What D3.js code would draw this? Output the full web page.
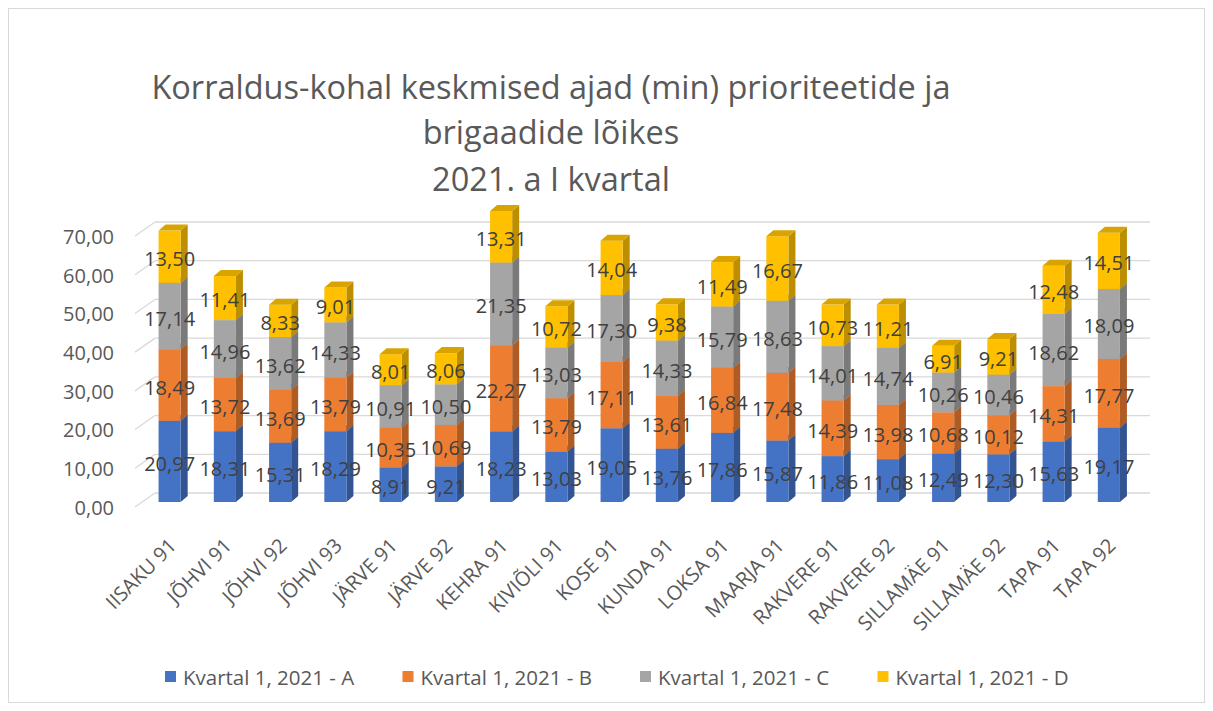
<!DOCTYPE html>
<html><head><meta charset="utf-8">
<script src="https://cdn.jsdelivr.net/npm/d3@7"></script>
<style>body{margin:0;background:#fff}svg{display:block;font-family:"Open Sans",sans-serif}</style>
</head><body>
<script>
const categories = ["IISAKU 91","JÕHVI 91","JÕHVI 92","JÕHVI 93","JÄRVE 91","JÄRVE 92","KEHRA 91","KIVIÕLI 91","KOSE 91","KUNDA 91","LOKSA 91","MAARJA 91","RAKVERE 91","RAKVERE 92","SILLAMÄE 91","SILLAMÄE 92","TAPA 91","TAPA 92"];
const seriesNames = ["Kvartal 1, 2021 - A","Kvartal 1, 2021 - B","Kvartal 1, 2021 - C","Kvartal 1, 2021 - D"];
const valuesA = [20.97,18.31,15.31,18.29,8.91,9.21,18.23,13.03,19.05,13.76,17.86,15.87,11.86,11.08,12.49,12.30,15.63,19.17];
const valuesB = [18.49,13.72,13.69,13.79,10.35,10.69,22.27,13.79,17.11,13.61,16.84,17.48,14.39,13.98,10.68,10.12,14.31,17.77];
const valuesC = [17.14,14.96,13.62,14.33,10.91,10.50,21.35,13.03,17.30,14.33,15.79,18.63,14.01,14.74,10.26,10.46,18.62,18.09];
const valuesD = [13.50,11.41,8.33,9.01,8.01,8.06,13.31,10.72,14.04,9.38,11.49,16.67,10.73,11.21,6.91,9.21,12.48,14.51];
const yTicks = [0,10,20,30,40,50,60,70];
const titleLines = ["Korraldus-kohal keskmised ajad (min) prioriteetide ja","brigaadide lõikes","2021. a I kvartal"];
const colors = ["#4472C4","#ED7D31","#A5A5A5","#FFC000"];

const W = 1213, H = 711;
const svg = d3.select("body").append("svg").attr("width", W).attr("height", H);

svg.append("rect").attr("x",8.5).attr("y",8.5).attr("width",1196).attr("height",694)
  .attr("fill","#fff").attr("stroke","#d9d9d9");

const rows = categories.map((c,i)=>({cat:c, A:valuesA[i], B:valuesB[i], C:valuesC[i], D:valuesD[i]}));
const stack = d3.stack().keys(["A","B","C","D"])(rows);

const x = d3.scaleBand().domain(categories).range([142, 1136.5]).paddingInner(0.6).paddingOuter(0.3);
const y = d3.scaleLinear().domain([0,70]).range([502,231]);
const dx = 7, dy = -6;

// gridlines (back wall) and left wall diagonals
const grid = svg.append("g");
yTicks.forEach(t=>{
  const yy = y(t);
  grid.append("line").attr("x1",155).attr("x2",1150).attr("y1",yy-9).attr("y2",yy-9)
    .attr("stroke","#d9d9d9").attr("stroke-width",1.3);
  grid.append("line").attr("x1",135).attr("x2",155).attr("y1",yy+5).attr("y2",yy-9)
    .attr("stroke","#d9d9d9").attr("stroke-width",1.3);
});

// y axis labels
const yAxis = d3.axisLeft(y).tickValues(yTicks).tickSize(0).tickPadding(0)
  .tickFormat(d=>d3.format(".2f")(d).replace(".",","));
const yg = svg.append("g").attr("transform","translate(114,6)").call(yAxis);
yg.select(".domain").remove();
yg.selectAll("text").attr("fill","#595959").attr("font-size",20).attr("font-family","Open Sans");

// bars
const bw = x.bandwidth();
const barsG = svg.append("g");
categories.forEach((c,i)=>{
  const x0 = x(c), x1 = x0 + bw;
  stack.forEach((s,k)=>{
    const d = s[i];
    const yb = y(d[0]), yt = y(d[1]);
    const col = d3.color(colors[k]);
    const side = col.darker(0.85), top = col.darker(0.45);
    barsG.append("polygon").attr("points",[[x1,yb],[x1+dx,yb+dy],[x1+dx,yt+dy],[x1,yt]].join(" ")).attr("fill",side);
    barsG.append("rect").attr("x",x0).attr("y",yt).attr("width",bw).attr("height",yb-yt).attr("fill",col);
    barsG.append("polygon").attr("points",[[x0,yt],[x0+dx,yt+dy],[x1+dx,yt+dy],[x1,yt]].join(" ")).attr("fill",top);
  });
});

// data labels
const lab = svg.append("g");
stack.forEach((s,k)=>{
  s.forEach((d,i)=>{
    const v = d[1]-d[0];
    lab.append("text").attr("x", x(categories[i]) + bw/2).attr("y", (y(d[0])+y(d[1]))/2 + 2)
      .attr("text-anchor","middle").attr("dominant-baseline","central")
      .attr("font-size",20).attr("fill","#404040")
      .text(d3.format(".2f")(v).replace(".",","));
  });
});

// x axis labels
const xl = svg.append("g");
categories.forEach(c=>{
  const cx = x(c) + bw/2;
  xl.append("text").attr("transform",`translate(${cx+8},547) rotate(-45)`)
    .attr("text-anchor","end").attr("font-size",20).attr("fill","#595959").text(c);
});

// title
const tY = [99,144,191];
titleLines.forEach((t,i)=>{
  svg.append("text").attr("x",551).attr("y",tY[i]).attr("text-anchor","middle")
    .attr("font-size",32.5).attr("fill","#595959").text(t);
});

// legend
const leg = svg.append("g");
seriesNames.forEach((n,k)=>{
  const lx = 165 + k*237.5;
  leg.append("rect").attr("x",lx).attr("y",671).attr("width",11).attr("height",11).attr("fill",colors[k]);
  leg.append("text").attr("x",lx+18).attr("y",677).attr("dominant-baseline","central")
    .attr("font-size",20.5).attr("fill","#595959").text(n);
});
</script>
</body></html>
